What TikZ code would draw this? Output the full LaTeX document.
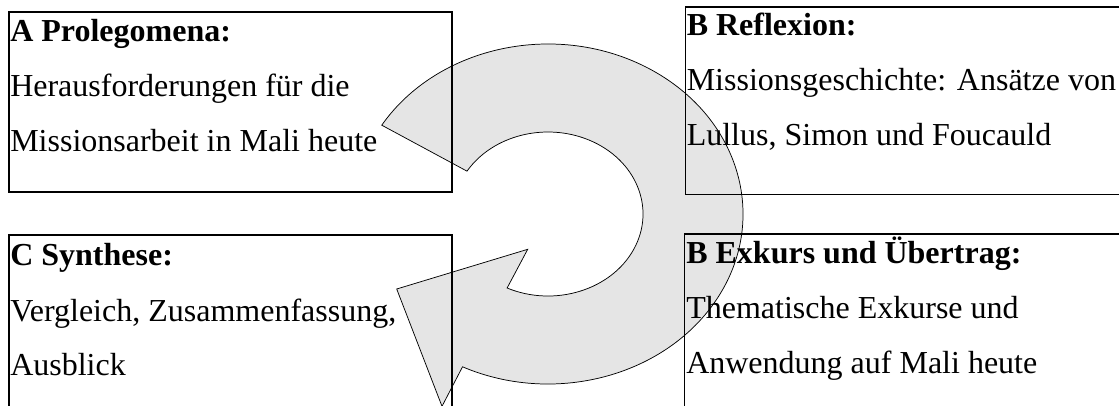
\documentclass[tikz,border=0pt]{standalone}
\usepackage{fontspec}
\setmainfont{Liberation Serif}
\usetikzlibrary{calc}
\begin{document}
\begin{tikzpicture}[x=0.75pt,y=0.75pt,
  arrowshape/.style={draw=black, line width=0.55pt, fill=gray!20, line join=miter},
  boxline/.style={draw=black, line width=1.3pt},
  txt/.style={anchor=base west, inner sep=0pt, font=\fontsize{24pt}{28pt}\selectfont},
  ttl/.style={anchor=base west, inner sep=0pt, font=\fontsize{24pt}{28pt}\selectfont\bfseries}]
\useasboundingbox (0,0) rectangle (1119,405);
\clip (0,0) rectangle (1119,405);
% circular arrow
\coordinate (c) at (548,191);
\coordinate (hin) at (527.7,155.7);
\coordinate (hout) at (442,-1.3);
\coordinate (tip) at (396.7,116);
\draw[arrowshape] ($(c)+(148.5:146.25pt and 127.5pt)$)
  arc[start angle=148.5, end angle=-116, x radius=146.25pt, y radius=127.5pt]
  -- (hout) -- (tip) -- (hin)
  -- ($(c)+(-115.5:71.25pt and 61.5pt)$)
  arc[start angle=-115.5, end angle=148.5, x radius=71.25pt, y radius=61.5pt]
  -- cycle;
% boxes
\draw[boxline] (9,213) rectangle (452,393);
\draw[boxline] (685.5,210.5) rectangle (1140,398);
\draw[boxline] (9,-30) rectangle (452,170);
\draw[boxline] (684.5,-30) rectangle (1140,170.7);
% texts
\node[ttl] (a1) at (10,363.3) {A Prolegomena:};
\node[txt] (a2) at (10,308.3) {Herausforderungen für die};
\node[txt] (a3) at (10,253.3) {Missionsarbeit in Mali heute};
\node[ttl] (b1) at (686.5,370) {B Reflexion:};
\node[txt] (b2) at (686.5,315) {Missionsgeschichte: Ansätze von};
\node[txt] (b3) at (686.5,260) {Lullus, Simon und Foucauld};
\node[ttl] (c1) at (10,139.5) {C Synthese:};
\node[txt] (c2) at (10,84) {Vergleich, Zusammenfassung,};
\node[txt] (c3) at (10,30) {Ausblick};
\node[ttl] (d1) at (686,141.7) {B Exkurs und Übertrag:};
\node[txt] (d2) at (686,86.7) {Thematische Exkurse und};
\node[txt] (d3) at (686,31.7) {Anwendung auf Mali heute};
\end{tikzpicture}
\end{document}
